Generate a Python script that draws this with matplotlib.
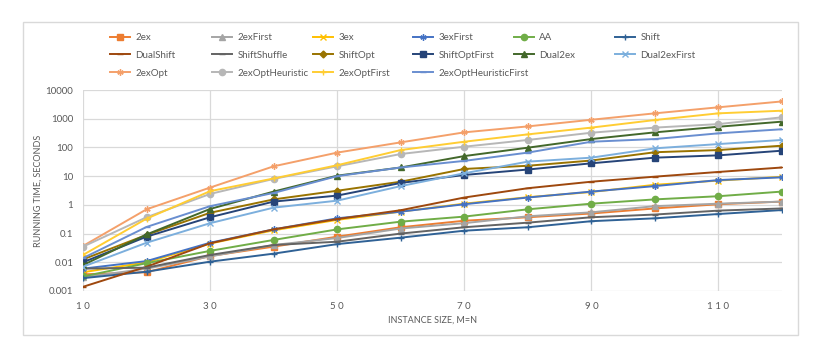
import matplotlib
matplotlib.use('Agg')
import matplotlib.pyplot as plt
from matplotlib.patches import Rectangle

plt.rcParams['font.family'] = ['Lato', 'DejaVu Sans']

sizes = [10, 20, 30, 40, 50, 60, 70, 80, 90, 100, 110, 120]

ex2 = [0.0038, 0.0045, 0.0166, 0.035, 0.078, 0.166, 0.28, 0.37, 0.5, 0.75, 1.05, 1.3]
ex2_first = [0.003, 0.006, 0.016, 0.04, 0.07, 0.15, 0.23, 0.4, 0.55, 0.9, 1.1, 1.3]
ex3 = [0.0045, 0.01, 0.045, 0.13, 0.3, 0.58, 1.1, 1.85, 2.8, 5.0, 7.0, 9.5]
ex3_first = [0.006, 0.011, 0.048, 0.14, 0.34, 0.58, 1.05, 1.8, 2.9, 4.5, 7.3, 9.1]
aa = [0.0032, 0.0093, 0.025, 0.06, 0.14, 0.26, 0.39, 0.7, 1.1, 1.55, 2.0, 2.9]
shift = [0.0028, 0.0047, 0.0105, 0.02, 0.043, 0.072, 0.126, 0.166, 0.27, 0.34, 0.48, 0.66]
dual_shift = [0.0014, 0.007, 0.046, 0.14, 0.32, 0.65, 1.8, 3.8, 6.4, 9.6, 14, 20]
shift_shuffle = [0.006, 0.0065, 0.018, 0.04, 0.052, 0.1, 0.166, 0.24, 0.37, 0.46, 0.63, 0.75]
shift_opt = [0.0126, 0.09, 0.53, 1.55, 3.1, 6.4, 17.8, 23, 35, 68, 81, 115]
shift_opt_first = [0.01, 0.078, 0.37, 1.3, 2.1, 5.8, 11, 17, 28, 44, 53, 77]
dual2ex = [0.008, 0.093, 0.72, 2.9, 10.4, 20, 50, 98, 196, 335, 525, 790]
dual2ex_first = [0.007, 0.048, 0.23, 0.8, 1.4, 4.5, 12.6, 32, 44, 93, 131, 182]
ex2_opt = [0.037, 0.7, 4.0, 22, 66, 150, 335, 540, 920, 1540, 2500, 4000]
ex2_opt_heur = [0.035, 0.37, 2.4, 8, 22, 59, 106, 182, 325, 490, 650, 1120]
ex2_opt_first = [0.018, 0.33, 3.0, 8.3, 24, 81, 158, 285, 490, 900, 1540, 1900]
ex2_opt_heur_first = [0.014, 0.17, 0.9, 2.6, 10, 20, 34, 66, 158, 196, 310, 430]

series = [
    ('2ex', ex2, '#ED7D31', 's'),
    ('2exFirst', ex2_first, '#A5A5A5', '^'),
    ('3ex', ex3, '#FFC000', 'x'),
    ('3exFirst', ex3_first, '#4472C4', (6, 2, 0)),
    ('AA', aa, '#70AD47', 'o'),
    ('Shift', shift, '#2F6195', '+'),
    ('DualShift', dual_shift, '#9E480E', '_'),
    ('ShiftShuffle', shift_shuffle, '#636363', '_'),
    ('ShiftOpt', shift_opt, '#997300', 'D'),
    ('ShiftOptFirst', shift_opt_first, '#264478', 's'),
    ('Dual2ex', dual2ex, '#43682B', '^'),
    ('Dual2exFirst', dual2ex_first, '#7CAFDD', 'x'),
    ('2exOpt', ex2_opt, '#F4A06A', (6, 2, 0)),
    ('2exOptHeuristic', ex2_opt_heur, '#B7B7B7', 'o'),
    ('2exOptFirst', ex2_opt_first, '#FFCD33', '+'),
    ('2exOptHeuristicFirst', ex2_opt_heur_first, '#698ED0', '_'),
]

W, H = 822, 358
fig = plt.figure(figsize=(W / 100, H / 100), dpi=100)
ax = fig.add_axes([83 / W, 1 - 291 / H, (782 - 83) / W, (291 - 90) / H])

lines = {}
for name, vals, col, mk in series:
    ms = 4.5 if mk not in ('D',) else 3.5
    ln, = ax.plot(sizes, vals, color=col, lw=1.4, marker=mk, ms=ms,
                  mec=col, mfc=col, mew=1.0, label=name)
    lines[name] = ln

ax.set_yscale('log')
ax.set_ylim(0.001, 10000)
ax.set_xlim(10, 120)
yt = [0.001, 0.01, 0.1, 1, 10, 100, 1000, 10000]
ax.set_yticks(yt)
ax.set_yticklabels(['0.001', '0.01', '0.1', '1', '10', '100', '1000', '10000'])
ax.minorticks_off()
ax.set_xticks([10, 30, 50, 70, 90, 110])
ax.set_xticklabels(['1 0', '3 0', '5 0', '7 0', '9 0', '1 1 0'])
ax.grid(True, color='#D9D9D9', lw=0.9)
ax.set_axisbelow(True)
for s in ax.spines.values():
    s.set_visible(False)
ax.tick_params(length=0, labelsize=7, labelcolor='#595959')
ax.tick_params(axis='y', pad=7)
ax.tick_params(axis='x', pad=8)
ax.set_xlabel('INSTANCE SIZE, M=N', fontsize=6.5, color='#595959', labelpad=3)
ax.set_ylabel('RUNNING TIME, SECONDS', fontsize=6.5, color='#595959', labelpad=2)

# legend, filled row by row like the original, one legend per column
names = [s[0] for s in series]
col_x = [110, 212, 313, 413, 514, 615]
for j in range(6):
    items = names[j::6]
    leg = fig.legend([lines[n] for n in items], items, loc='upper left',
                     bbox_to_anchor=(col_x[j] / W, 1 - 33 / H), frameon=False,
                     fontsize=7, handlelength=2.1, handletextpad=0.5,
                     labelspacing=0.9, borderpad=0, borderaxespad=0)
    for t in leg.get_texts():
        t.set_color('#595959')

fig.patches.append(Rectangle((23 / W, 1 - 335 / H), 775 / W, 313 / H,
                             transform=fig.transFigure, fill=False,
                             ec='#D9D9D9', lw=1))

fig.savefig('out.png', dpi=100)
